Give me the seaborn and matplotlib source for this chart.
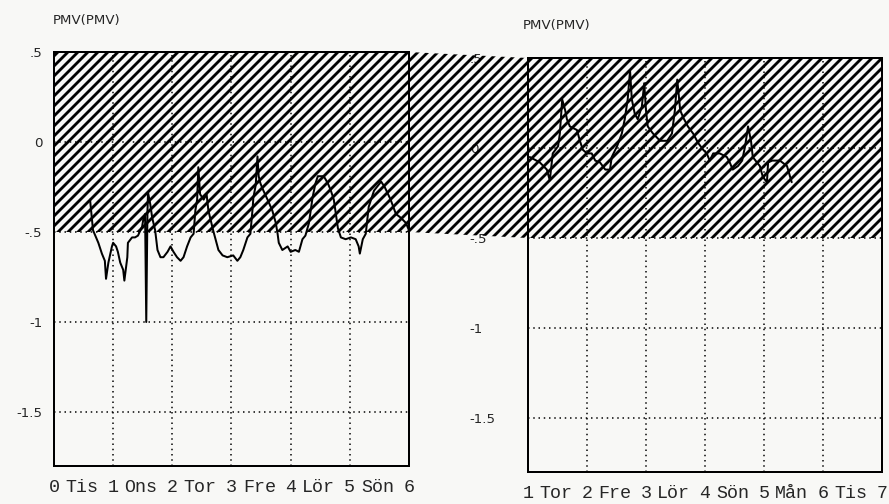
import matplotlib
matplotlib.use("Agg")
import matplotlib.pyplot as plt
from matplotlib.patches import Polygon
from matplotlib.ticker import MultipleLocator
import numpy as np
import pandas as pd
import seaborn as sns

# Week 1: time in days from Monday midnight, PMV index
week1_day = [0.61, 0.66, 0.75, 0.81, 0.86, 0.88, 0.92, 0.98, 1.00, 1.05, 1.08, 1.12,
             1.17, 1.19, 1.24, 1.25, 1.32, 1.37, 1.42, 1.49, 1.51, 1.54, 1.56, 1.58,
             1.59, 1.63, 1.66, 1.71, 1.75, 1.80, 1.85, 1.92, 1.97, 2.02, 2.08, 2.14,
             2.19, 2.25, 2.31, 2.36, 2.39, 2.42, 2.44, 2.47, 2.53, 2.58, 2.61, 2.69,
             2.78, 2.85, 2.93, 3.03, 3.10, 3.15, 3.20, 3.27, 3.32, 3.36, 3.37, 3.41,
             3.44, 3.46, 3.49, 3.54, 3.61, 3.69, 3.75, 3.78, 3.80, 3.86, 3.95, 4.00,
             4.08, 4.14, 4.20, 4.25, 4.31, 4.37, 4.42, 4.46, 4.56, 4.63, 4.68, 4.73,
             4.80, 4.85, 4.93, 5.02, 5.10, 5.15, 5.17, 5.22, 5.27, 5.32, 5.41, 5.53,
             5.59, 5.69, 5.78, 5.86, 5.95, 6.00]
week1_pmv = [-0.32, -0.49, -0.56, -0.62, -0.66, -0.76, -0.67, -0.58, -0.56, -0.58, -0.61, -0.67,
             -0.71, -0.77, -0.64, -0.56, -0.53, -0.53, -0.52, -0.47, -0.43, -0.40, -1.00, -0.39,
             -0.28, -0.35, -0.42, -0.49, -0.60, -0.64, -0.64, -0.61, -0.58, -0.61, -0.64, -0.66,
             -0.64, -0.58, -0.53, -0.51, -0.38, -0.32, -0.14, -0.29, -0.32, -0.29, -0.38, -0.49,
             -0.60, -0.63, -0.64, -0.63, -0.66, -0.64, -0.60, -0.53, -0.51, -0.36, -0.31, -0.24,
             -0.08, -0.19, -0.23, -0.27, -0.32, -0.38, -0.45, -0.51, -0.56, -0.60, -0.58, -0.61,
             -0.60, -0.61, -0.54, -0.52, -0.45, -0.31, -0.23, -0.19, -0.19, -0.23, -0.27, -0.32,
             -0.48, -0.53, -0.54, -0.53, -0.54, -0.58, -0.62, -0.54, -0.51, -0.36, -0.27, -0.22,
             -0.25, -0.32, -0.40, -0.42, -0.45, -0.49]

# Week 2
week2_day = [1.03, 1.20, 1.32, 1.37, 1.42, 1.51, 1.54, 1.58, 1.63, 1.66, 1.71, 1.83,
             1.88, 1.93, 2.00, 2.08, 2.14, 2.22, 2.31, 2.39, 2.42, 2.51, 2.59, 2.64,
             2.69, 2.73, 2.76, 2.81, 2.86, 2.93, 2.97, 3.00, 3.03, 3.12, 3.24, 3.36,
             3.44, 3.49, 3.53, 3.58, 3.63, 3.71, 3.80, 3.88, 3.97, 4.03, 4.08, 4.14,
             4.25, 4.37, 4.42, 4.47, 4.56, 4.63, 4.68, 4.73, 4.78, 4.81, 4.88, 4.93,
             4.98, 5.05, 5.07, 5.14, 5.27, 5.39, 5.47]
week2_pmv = [-0.05, -0.08, -0.12, -0.18, -0.03, 0.01, 0.08, 0.27, 0.21, 0.16, 0.12, 0.10,
             0.04, -0.01, -0.03, -0.03, -0.07, -0.08, -0.12, -0.12, -0.05, 0.01, 0.08, 0.16,
             0.27, 0.43, 0.27, 0.19, 0.16, 0.23, 0.36, 0.21, 0.12, 0.08, 0.04, 0.04,
             0.08, 0.21, 0.38, 0.21, 0.17, 0.12, 0.08, 0.03, -0.01, -0.03, -0.07, -0.03,
             -0.03, -0.05, -0.08, -0.12, -0.10, -0.07, 0.01, 0.12, 0.04, -0.05, -0.08, -0.10,
             -0.16, -0.19, -0.08, -0.07, -0.07, -0.10, -0.19]

week1_ticks = [0, 1, 2, 3, 4, 5, 6]
week1_days = ["Tis", "Ons", "Tor", "Fre", "Lör", "Sön"]
week2_ticks = [1, 2, 3, 4, 5, 6, 7]
week2_days = ["Tor", "Fre", "Lör", "Sön", "Mån", "Tis"]
pmv_ticks = [0.5, 0.0, -0.5, -1.0, -1.5]
pmv_labels = [".5", "0", "-.5", "-1", "-1.5"]
comfort_band = (-0.5, 0.5)
pmv_range = (-1.8, 0.5)
panel_title = "PMV(PMV)"

sns.set_style("white")
plt.rcParams["hatch.linewidth"] = 1.7
plt.rcParams["font.family"] = ["DejaVu Sans"]

DPI = 120
bg = "#f8f8f6"
fig = plt.figure(figsize=(889 / DPI, 504 / DPI), dpi=DPI, facecolor=bg)
ax1 = fig.add_axes([0.0607, 0.0754, 0.3993, 0.8214])
ax2 = fig.add_axes([0.5939, 0.0635, 0.3982, 0.8214])

df1 = pd.DataFrame({"dag": week1_day, "PMV": week1_pmv})
df2 = pd.DataFrame({"dag": week2_day, "PMV": week2_pmv})

mono = "Liberation Mono"
HATCH = "////"

def style_panel(ax, df, ticks, days, label_ha, label_pad):
    ax.set_facecolor(bg)
    ax.axhspan(*comfort_band, facecolor="none", edgecolor="black",
               hatch=HATCH, linewidth=0, zorder=1)
    sns.lineplot(data=df, x="dag", y="PMV", ax=ax, color="black",
                 linewidth=1.2, estimator=None, sort=False, zorder=3)
    ax.set_xlim(ticks[0], ticks[-1])
    ax.set_ylim(*pmv_range)
    ax.set_xlabel("")
    ax.set_ylabel("")
    ax.set_xticks(ticks)
    ax.set_xticklabels([str(t) for t in ticks], fontfamily=mono, fontsize=11)
    ax.set_yticks(pmv_ticks)
    ax.set_yticklabels(pmv_labels, fontsize=8, ha=label_ha)
    ax.xaxis.set_minor_locator(MultipleLocator(0.125))
    ax.yaxis.set_minor_locator(MultipleLocator(0.1))
    ax.tick_params(which="major", direction="inout", length=6, width=1.0, color="black")
    ax.tick_params(which="minor", direction="inout", length=3, width=0.8, color="black")
    ax.tick_params(axis="x", pad=5)
    ax.tick_params(axis="y", pad=label_pad)
    ax.grid(True, which="major", color="black", linestyle=(0, (1, 2.5)), linewidth=0.9)
    ax.set_axisbelow(False)
    for s in ax.spines.values():
        s.set_visible(True)
        s.set_color("black")
        s.set_linewidth(1.2)
    for i, d in enumerate(days):
        ax.annotate(d, xy=(ticks[i] + 0.47, 0), xycoords=ax.get_xaxis_transform(),
                    xytext=(0, -8), textcoords="offset points", ha="center", va="top",
                    fontfamily=mono, fontsize=11)

style_panel(ax1, df1, week1_ticks, week1_days, "right", 4)
style_panel(ax2, df2, week2_ticks, week2_days, "left", 32)

# Comfort band continues across the space between the two panels
fig.canvas.draw()
inv = fig.transFigure.inverted()
corners = [ax1.transData.transform((week1_ticks[-1], comfort_band[1])),
           ax2.transData.transform((week2_ticks[0], comfort_band[1])),
           ax2.transData.transform((week2_ticks[0], comfort_band[0])),
           ax1.transData.transform((week1_ticks[-1], comfort_band[0]))]
corners = [inv.transform(c) for c in corners]
fig.add_artist(Polygon(corners, closed=True, transform=fig.transFigure,
                       facecolor="none", edgecolor="black", hatch=HATCH,
                       linewidth=0, zorder=5))

fig.text(0.0596, 0.960, panel_title, fontsize=8, ha="left", va="center")
fig.text(0.588, 0.950, panel_title, fontsize=8, ha="left", va="center")

fig.savefig("out.png", dpi=DPI, facecolor=bg)
